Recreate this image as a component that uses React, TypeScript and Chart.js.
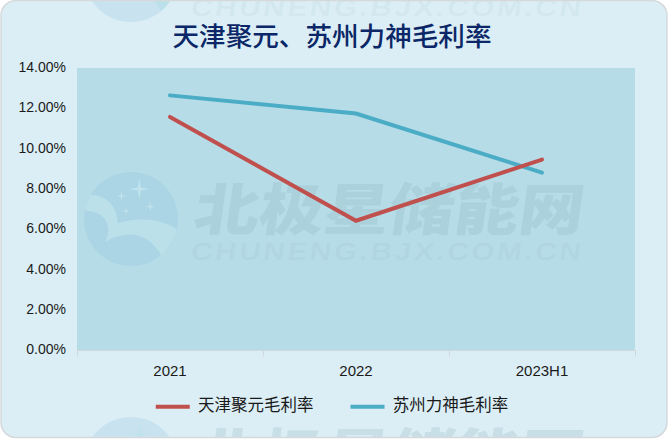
import React, { useEffect, useRef } from "react";
import { Chart, registerables } from "chart.js";

Chart.register(...registerables);

const categories = ["2021", "2022", "2023H1"];
const tianjinMargin = [11.57, 6.43, 9.46];
const suzhouMargin = [12.64, 11.74, 8.81];
const chartTitle = "天津聚元、苏州力神毛利率";
const seriesNames = ["天津聚元毛利率", "苏州力神毛利率"];
const watermarkName = "北极星储能网";
const watermarkUrl = "CHUNENG.BJX.COM.CN";

const CJK = '"Liberation Sans", "Noto Sans CJK SC", sans-serif';

function star(ctx: CanvasRenderingContext2D, x: number, y: number, r: number) {
  const k = r * 0.16;
  ctx.beginPath();
  ctx.moveTo(x, y - r);
  ctx.lineTo(x + k, y - k);
  ctx.lineTo(x + r, y);
  ctx.lineTo(x + k, y + k);
  ctx.lineTo(x, y + r);
  ctx.lineTo(x - k, y + k);
  ctx.lineTo(x - r, y);
  ctx.lineTo(x - k, y - k);
  ctx.closePath();
  ctx.fill();
}

function drawWatermark(ctx: CanvasRenderingContext2D, dy: number) {
  ctx.save();
  // Logo disc
  ctx.save();
  ctx.fillStyle = "rgba(130,190,220,0.22)";
  ctx.beginPath();
  ctx.arc(131, 219 + dy, 47, 0, Math.PI * 2);
  ctx.fill();
  ctx.clip();
  ctx.translate(77, 160 + dy);
  ctx.scale(1 / 3, 1 / 3);
  ctx.fillStyle = "#bbe0ea";
  ctx.beginPath();
  ctx.moveTo(25, 108);
  ctx.bezierCurveTo(80, 95, 122, 135, 122, 190);
  ctx.bezierCurveTo(200, 165, 280, 185, 305, 215);
  ctx.lineTo(255, 290);
  ctx.bezierCurveTo(210, 205, 140, 215, 85, 245);
  ctx.bezierCurveTo(105, 210, 95, 150, 20, 152);
  ctx.closePath();
  ctx.fill();
  ctx.fillStyle = "#c0e2ec";
  star(ctx, 187, 87, 30);
  star(ctx, 133, 108, 15);
  star(ctx, 220, 140, 15);
  star(ctx, 147, 153, 12);
  ctx.restore();
  // Name and URL
  ctx.textAlign = "left";
  ctx.textBaseline = "alphabetic";
  ctx.fillStyle = "rgba(130,165,175,0.20)";
  ctx.save();
  ctx.transform(1.16, 0, -0.14, 1, 192, 230 + dy);
  ctx.font = `900 56px "Noto Sans CJK SC"`;
  ctx.fillText(watermarkName, 0, 0);
  ctx.restore();
  ctx.fillStyle = "rgba(130,165,175,0.09)";
  ctx.save();
  ctx.transform(1.19, 0, -0.14, 1, 190, 260 + dy);
  ctx.font = `700 25px "Liberation Sans"`;
  (ctx as any).letterSpacing = "2.2px";
  ctx.fillText(watermarkUrl, 0, 0);
  ctx.restore();
  ctx.restore();
}

const cardPlugin = {
  id: "card",
  beforeDraw(chart: any) {
    const { ctx, chartArea: a, width, height } = chart;
    ctx.save();
    ctx.fillStyle = "#ffffff";
    ctx.fillRect(0, 0, width, height);
    ctx.beginPath();
    ctx.roundRect(1, 0.5, width - 2, height - 2, 15);
    ctx.fillStyle = "#dbeef5";
    ctx.fill();
    ctx.clip();
    ctx.fillStyle = "#b6dce8";
    ctx.fillRect(a.left, a.top, a.right - a.left, a.bottom - a.top);
    drawWatermark(ctx, -244);
    drawWatermark(ctx, 0);
    drawWatermark(ctx, 245);
    ctx.restore();
    ctx.save();
    ctx.beginPath();
    ctx.roundRect(1, 0.5, width - 2, height - 2, 15);
    ctx.strokeStyle = "#d6d9dc";
    ctx.lineWidth = 1.5;
    ctx.stroke();
    ctx.restore();
  },
};

export default function App() {
  const ref = useRef<HTMLCanvasElement>(null);
  useEffect(() => {
    document.body.style.margin = "0";
    ref.current!.getContext("2d", { alpha: false });
    const chart = new Chart(ref.current!, {
      type: "line",
      plugins: [cardPlugin],
      data: {
        labels: categories,
        datasets: [
          {
            label: seriesNames[0],
            data: tianjinMargin,
            borderColor: "#c0504d",
            backgroundColor: "#c0504d",
            borderWidth: 4,
            borderCapStyle: "round",
            pointRadius: 0,
            tension: 0,
          },
          {
            label: seriesNames[1],
            data: suzhouMargin,
            borderColor: "#4bacc6",
            backgroundColor: "#4bacc6",
            borderWidth: 4,
            borderCapStyle: "round",
            pointRadius: 0,
            tension: 0,
          },
        ],
      },
      options: {
        responsive: false,
        animation: false,
        devicePixelRatio: 1,
        layout: { padding: { left: 29, right: 33, top: 0, bottom: 14 } },
        plugins: {
          title: {
            display: true,
            text: chartTitle,
            color: "#0b2767",
            font: { family: CJK, size: 26.6, weight: "500" },
            padding: { top: 23, bottom: 13 },
          },
          legend: {
            position: "bottom",
            labels: {
              usePointStyle: true,
              pointStyle: "line",
              pointStyleWidth: 34,
              color: "#1a1a1a",
              font: { family: CJK, size: 16.5 },
              boxHeight: 16,
              padding: 37,
            },
          },
          tooltip: { enabled: false },
        },
        scales: {
          x: {
            offset: true,
            afterFit(scale: any) {
              scale.height = 11;
              scale._computeLabelArea = () => undefined;
            },
            grid: {
              drawOnChartArea: false,
              drawTicks: true,
              tickLength: 6,
              color: "#d0d8dc",
              offset: true,
            },
            border: { color: "#d0d8dc" },
            ticks: {
              color: "#1a1a1a",
              font: { family: CJK, size: 15 },
              padding: 6,
              maxRotation: 0,
              autoSkip: false,
            },
          },
          y: {
            min: 0,
            max: 14,
            grid: { display: false },
            border: { display: false },
            afterFit(scale: any) {
              scale.width = 48;
              scale._computeLabelArea = () => undefined;
            },
            ticks: {
              stepSize: 2,
              color: "#1a1a1a",
              font: { family: CJK, size: 14 },
              padding: 3,
              callback: (v: any) => Number(v).toFixed(2) + "%",
            },
          },
        },
      },
    } as any);
    return () => chart.destroy();
  }, []);
  return <canvas ref={ref} width={668} height={439} style={{ display: "block" }} />;
}
